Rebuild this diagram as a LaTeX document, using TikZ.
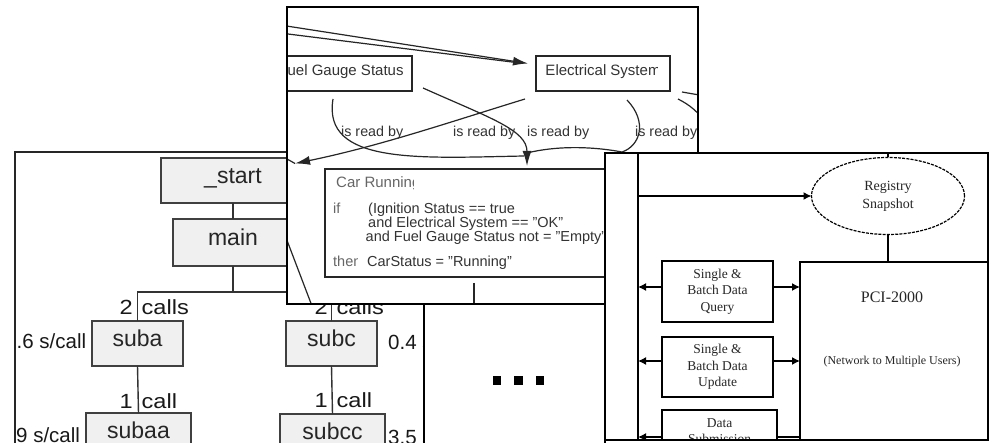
\documentclass[tikz,border=0pt]{standalone}
\usepackage{fontspec}
\setmainfont{Liberation Sans}
\newfontfamily\lblfont[FakeStretch=1.15]{Liberation Sans}
\newfontfamily\serfont{Liberation Serif}
\usetikzlibrary{arrows.meta,shapes.geometric}
\tikzset{
  panel/.style={draw=black, line width=1.3pt, fill=white},
  fnbox/.style={draw=black!75, fill=black!6, line width=1.4pt, inner sep=0pt, outer sep=0pt,
    font=\fontsize{23}{27}\selectfont, text=black!85, text height=0.72em, text depth=0.16em},
  callline/.style={draw=black!80, line width=1.4pt},
  lbl/.style={inner sep=0pt, text=black!90, font=\lblfont\fontsize{20.5}{24}\selectfont},
  tlbl/.style={inner sep=0pt, text=black!90, font=\fontsize{20.5}{24}\selectfont},
  rbox/.style={draw=black!85, line width=1.2pt, inner sep=0pt, outer sep=0pt, fill=white},
  ctxt/.style={inner sep=0pt, text=black!80, font=\fontsize{15}{18}\selectfont},
  rtxt/.style={inner sep=0pt, text=black!80, font=\fontsize{14.5}{17}\selectfont},
  gtxt/.style={inner sep=0pt, text=black!60, font=\fontsize{14.5}{17}\selectfont},
  cedge/.style={draw=black!85, line width=1.2pt},
  ctip/.style={-{Latex[length=15pt,width=9pt]}},
  netline/.style={draw=black, line width=1.4pt},
  ntip/.style={-{Latex[length=8pt,width=8pt]}},
  netbox/.style={draw=black, line width=1.4pt, fill=white, inner sep=0pt, outer sep=0pt},
  ntxt/.style={inner sep=0pt, text=black!85, align=center, font=\serfont\fontsize{13.5}{16.5}\selectfont},
  dotsq/.style={fill=black, inner sep=0pt, minimum size=8.5pt, outer sep=0pt}
}
\begin{document}
\begin{tikzpicture}[x=1pt,y=-1pt]
\useasboundingbox (0,0) rectangle (992,443);
\fill[white] (0,0) rectangle (992,443);

% ---------- call graph ----------
\begin{scope}
  \clip (15,152) rectangle (440,460);
  \node[fnbox, minimum width=144pt, minimum height=45pt] (start) at (233,180.5) {\_start};
  \node[fnbox, minimum width=120pt, minimum height=47pt] (main) at (233,242.5) {main};
  \node[fnbox, minimum width=91pt, minimum height=45pt] (suba) at (137.5,343.5) {suba};
  \node[fnbox, minimum width=105pt, minimum height=45pt] (subaa) at (138.5,435.5) {subaa};
  \node[fnbox, minimum width=91pt, minimum height=45pt] (subc) at (331.5,343.5) {subc};
  \node[fnbox, minimum width=105pt, minimum height=45pt] (subcc) at (332.5,436.5) {subcc};
  \coordinate (fork) at (233,292);
  \draw[callline] (start.south) -- (main.north);
  \draw[callline] (main.south) -- (fork);
  \draw[callline] (fork) -| (suba.north);
  \draw[callline] (fork) -| (subc.north);
  \draw[callline] (suba.south) -- (subaa.north);
  \draw[callline] (subc.south) -- (subcc.north);
  \node[lbl, anchor=base east] (na1) at (133,314) {2};
  \node[lbl, anchor=base west] (na2) at (141.5,314) {calls};
  \node[tlbl, anchor=base west] (ta) at (16.5,348) {.6 s/call};
  \node[lbl, anchor=base east] (nb1) at (133,408) {1};
  \node[lbl, anchor=base west] (nb2) at (141.5,408) {call};
  \node[tlbl, anchor=base west] (tb) at (16,442) {9 s/call};
  \node[lbl, anchor=base east] (nc1) at (328,314) {2};
  \node[lbl, anchor=base west] (nc2) at (336.5,314) {calls};
  \node[tlbl, anchor=base west] (tc) at (388,349) {0.4 s/call};
  \node[lbl, anchor=base east] (nd1) at (328,407) {1};
  \node[lbl, anchor=base west] (nd2) at (336.5,407) {call};
  \node[tlbl, anchor=base west] (td) at (388,444) {3.5 s/call};
\end{scope}
\draw[draw=black!85, line width=1.2pt] (15,460) -- (15,152) -- (440,152);

% ---------- ellipsis sheet ----------
\draw[panel] (424,290) rectangle (605,460);
\node[dotsq] (d1) at (497,380.5) {};
\node[dotsq] (d2) at (518.5,380.5) {};
\node[dotsq] (d3) at (540,380.5) {};

% ---------- rule diagram ----------
\fill[white] (287,7) rectangle (698,304);
\begin{scope}
  \clip (287,7) rectangle (698,304);
  \node[rbox, minimum width=142pt, minimum height=35pt, ctxt, text height=0.72em, text depth=0.3em] (fuel) at (341,73.5) {Fuel Gauge Status};
  \node[rbox, minimum width=134pt, minimum height=35pt] (elec) at (603,73.5) {};
  \begin{scope}
    \clip (elec.south west) rectangle (657,56);
    \node[ctxt, text height=0.72em, text depth=0.3em] (electxt) at (elec.center) {Electrical System};
  \end{scope}
  \node[rbox, minimum width=335pt, minimum height=108pt] (car) at (492.5,223) {};
  \begin{scope}
    \clip (325,169) rectangle (413,200);
    \node[gtxt, font=\fontsize{15}{18}\selectfont, anchor=base west] (cartitle) at (336,188) {Car Running};
  \end{scope}
  \begin{scope}
    \clip (325,200) rectangle (357,277);
    \node[gtxt, anchor=base west] (kwif) at (333,214) {if};
    \node[gtxt, anchor=base west] (kwthen) at (333,267) {then};
  \end{scope}
  \begin{scope}
    \clip (360,195) rectangle (605,277);
    \node[rtxt, anchor=base west] (c1) at (368,214) {(Ignition Status == true};
    \node[rtxt, anchor=base west] (c2) at (368,228) {and Electrical System == "OK"};
    \node[rtxt, anchor=base west] (c3) at (365.5,242) {and Fuel Gauge Status not = "Empty"};
    \node[rtxt, anchor=base west] (c4) at (367,267) {CarStatus = "Running"};
  \end{scope}

  % connectors
  \coordinate (inA) at (280,25);
  \coordinate (inB) at (280,33);
  \coordinate (elecin) at (528,63.5);
  \coordinate (fuelr) at (423,88);
  \coordinate (fuelb) at (333,99);
  \coordinate (elecbl) at (525,99);
  \coordinate (elecb) at (627,100);
  \coordinate (carin) at (527,166);
  \coordinate (carside) at (295,163.5);
  \coordinate (bend) at (622,152);
  \draw[cedge] (inB) -- ([xshift=-12pt,yshift=1pt]elecin);
  \draw[cedge, ctip] (inA) -- (elecin);
  \draw[cedge, ctip] (fuelr) .. controls (490,118) and (527,130) .. (carin);
  \draw[cedge] (fuelb) .. controls (322,165) and (420,158) .. (524,156);
  \draw[cedge] (elecb) .. controls (648,122) and (640,146) .. (bend)
               .. controls (590,146) and (555,146) .. (527,153);
  \draw[cedge, ctip] (elecbl) .. controls (450,122) and (380,146) .. (carside);
  \draw[cedge] (280,155) -- (carside);
  \draw[cedge] (682,92) -- (705,96);
  \draw[cedge] (678,99) .. controls (690,105) and (698,112) .. (705,122);
  \draw[cedge] (280,222) -- (312,306);
  \draw[cedge] (474,283) -- (474,306);

  \node[ctxt, font=\fontsize{14.3}{17}\selectfont, anchor=base west] (r1) at (341,136.5) {is read by};
  \node[ctxt, font=\fontsize{14.3}{17}\selectfont, anchor=base west] (r2) at (453,136.5) {is read by};
  \node[ctxt, font=\fontsize{14.3}{17}\selectfont, anchor=base west] (r3) at (527,136.5) {is read by};
  \node[ctxt, font=\fontsize{14.3}{17}\selectfont, anchor=base west] (r4) at (635,136.5) {is read by};
\end{scope}
\draw[draw=black, line width=1.4pt] (287,7) rectangle (698,304);

% ---------- network diagram ----------
\fill[white] (605,153) rectangle (988,440);
\begin{scope}
  \clip (605,153) rectangle (988,440);
  \coordinate (bustop) at (638,153);
  \coordinate (busbot) at (638,440);
  \draw[netline] (bustop) -- (busbot);
  \node[draw=black, line width=1.2pt, dash pattern=on 3pt off 1.2pt, ellipse, fill=white,
        minimum width=153pt, minimum height=77pt, inner sep=0pt, outer sep=0pt,
        align=center, text=black!85, font=\serfont\fontsize{14}{19}\selectfont] (reg) at (888,196)
        {Registry\\[-1pt]Snapshot};
  \coordinate (regtop) at (888,153);
  \draw[netline] (regtop) -- (reg.north);
  \draw[netline, ntip] (reg.west -| bustop) -- (reg.west);
  \node[netbox, minimum width=188pt, minimum height=220pt] (pci) at (894,372) {};
  \draw[netline] (reg.south) -- (reg.south |- pci.north);
  \node[inner sep=0pt, text=black!85, font=\serfont\fontsize{16}{18}\selectfont] (pcitxt) at (892,297) {PCI-2000};
  \node[inner sep=0pt, text=black!85, font=\serfont\fontsize{12}{14}\selectfont] (pcisub) at (892,362) {(Network to Multiple Users)};
  \node[netbox, minimum width=111pt, minimum height=61pt, ntxt] (q1) at (717.5,291.5) {Single \&\\Batch Data\\Query};
  \node[netbox, minimum width=111pt, minimum height=60pt, ntxt] (q2) at (717.5,367) {Single \&\\Batch Data\\Update};
  \node[netbox, minimum width=115pt, minimum height=54pt] (q3) at (719.5,437) {};
  \node[ntxt] (q3txt) at (719.5,431) {Data\\Submission};
  \coordinate (q1l) at (662,287);
  \coordinate (q1r) at (773,287);
  \coordinate (q2l) at (662,361);
  \coordinate (q2r) at (773,361);
  \draw[netline, ntip] (q1l) -- (q1l -| bustop);
  \draw[netline, ntip] (q1r) -- (q1r -| pci.west);
  \draw[netline, ntip] (q2l) -- (q2l -| bustop);
  \draw[netline, ntip] (q2r) -- (q2r -| pci.west);
  \draw[netline, ntip] (q3.west) -- (q3.west -| bustop);
  \draw[netline] (q3.east) -- (q3.east -| pci.west);
\end{scope}
\draw[draw=black, line width=1.4pt] (605,153) rectangle (988,440);
\end{tikzpicture}
\end{document}
